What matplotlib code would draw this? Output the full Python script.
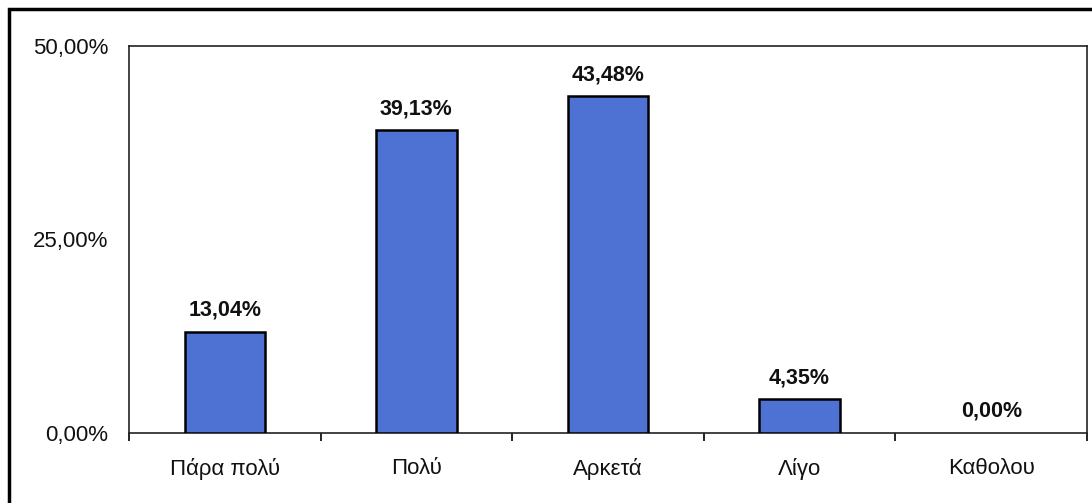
import matplotlib.pyplot as plt
from matplotlib.patches import Rectangle
from matplotlib.ticker import FixedLocator, FuncFormatter

# Données
categories = ["Πάρα πολύ", "Πολύ", "Αρκετά", "Λίγο", "Καθολου"]
values = [13.04, 39.13, 43.48, 4.35, 0.00]
y_ticks = [0, 25, 50]

plt.rcParams['font.family'] = ['Liberation Sans', 'DejaVu Sans']

fig = plt.figure(figsize=(10.92, 5.03), dpi=100)
fig.patch.set_facecolor("white")

# cadre extérieur (coupé à droite et en bas)
fig.patches.append(Rectangle((9 / 1092, -0.2), 1.5, 1.2 - 9 / 503,
                             transform=fig.transFigure, fill=False,
                             edgecolor="black", linewidth=2.5, zorder=0))

ax = fig.add_axes([129 / 1092, 1 - 433 / 503, 958 / 1092, (433 - 46) / 503])
x = list(range(len(categories)))
bars = ax.bar(x, values, width=0.42, color="#4E72D4", edgecolor="black",
              linewidth=[1.8 if v > 0 else 0 for v in values], zorder=3)

for xi, v in zip(x, values):
    ax.annotate(f"{v:.2f}%".replace(".", ","), (xi, v), xytext=(0, 8),
                textcoords="offset points", ha="center", va="bottom",
                fontsize=15.5, fontweight="bold", color="#111111")

ax.set_xlim(-0.5, len(categories) - 0.5)
ax.set_ylim(0, 50)
ax.set_yticks(y_ticks)
ax.yaxis.set_major_formatter(FuncFormatter(lambda v, p: f"{v:.2f}%".replace(".", ",")))
ax.set_xticks(x)
ax.set_xticklabels(categories)
ax.xaxis.set_minor_locator(FixedLocator([i - 0.5 for i in range(len(categories) + 1)]))

ax.tick_params(axis="x", which="major", length=0, pad=18, labelsize=16, labelcolor="#111111")
ax.tick_params(axis="x", which="minor", length=6, width=1.2, direction="out")
ax.tick_params(axis="y", length=0, pad=15, labelsize=16, labelcolor="#111111")

for s in ax.spines.values():
    s.set_linewidth(1.2)
    s.set_color("#222222")

fig.savefig("out.png", dpi=100, facecolor=fig.get_facecolor())
